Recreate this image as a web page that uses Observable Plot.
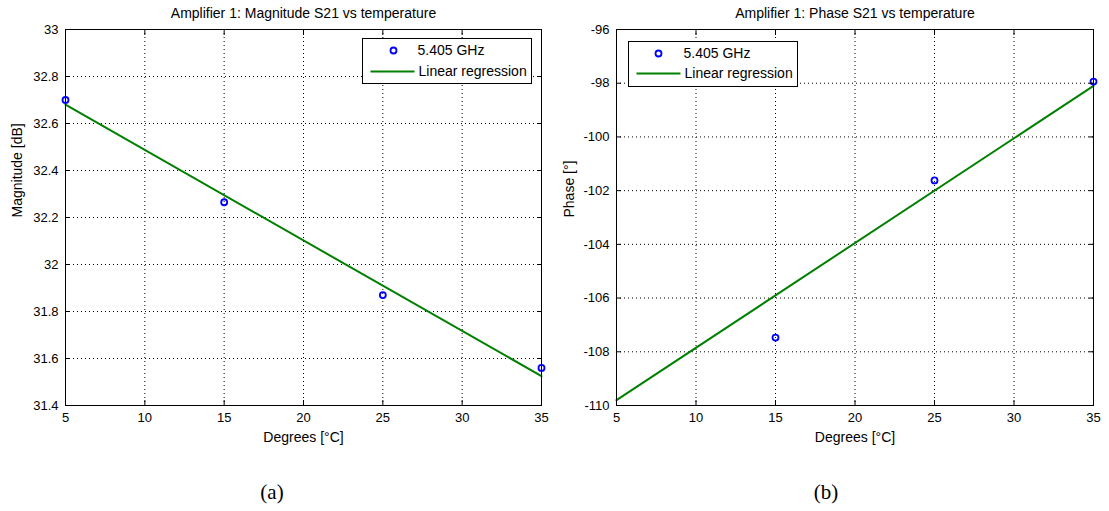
<!DOCTYPE html>
<html>
<head>
<meta charset="utf-8">
<script src="https://cdn.jsdelivr.net/npm/d3@7"></script>
<script src="https://cdn.jsdelivr.net/npm/@observablehq/plot@0.6"></script>
<style>
  html, body { margin: 0; padding: 0; background: #fff; }
  #wrap { position: relative; width: 1109px; height: 511px; background: #fff; overflow: hidden; }
  #wrap > .panel { position: absolute; top: 0; }
  .cap { position: absolute; top: 480px; font-family: "Liberation Serif", "Times New Roman", serif; font-size: 21px; color: #000; transform: translateX(-50%); white-space: nowrap; }
</style>
</head>
<body>
<div id="wrap">
  <div id="left" class="panel" style="left:0px"></div>
  <div id="right" class="panel" style="left:554px"></div>
  <div class="cap" style="left:272px">(a)</div>
  <div class="cap" style="left:826px">(b)</div>
</div>
<script>
// ---- data ----
const xTicks = [5, 10, 15, 20, 25, 30, 35];
const magTicks = [31.4, 31.6, 31.8, 32, 32.2, 32.4, 32.6, 32.8, 33];
const phaseTicks = [-110, -108, -106, -104, -102, -100, -98, -96];

const magTemps = [5, 15, 25, 35];
const magnitude = [32.70, 32.265, 31.87, 31.56];

const phaseTemps = [15, 25, 35];
const phase = [-107.47, -101.62, -97.94];

const regTemps = [5, 35];
const magRegression = [32.68, 31.525];
const phaseRegression = [-109.8, -98.1];

const seriesName = "5.405 GHz";
const regressionName = "Linear regression";
const xLabel = "Degrees [°C]";
const titles = ["Amplifier 1: Magnitude S21 vs temperature", "Amplifier 1: Phase S21 vs temperature"];
const yLabels = ["Magnitude [dB]", "Phase [°]"];

const BLUE = "#0000ff", GREEN = "#008000";

function panel(o) {
  const pts = o.xs.map((t, i) => ({t, v: o.ys[i]}));
  const reg = regTemps.map((t, i) => ({t, v: o.reg[i]}));
  const L = o.legend;
  return Plot.plot({
    width: o.width, height: 511,
    marginLeft: o.marginLeft, marginRight: o.marginRight, marginTop: 29, marginBottom: 106,
    style: {fontFamily: "'Liberation Sans', Arial, sans-serif", fontSize: "13px", background: "#fff", color: "#000", overflow: "visible"},
    x: {domain: [5, 35], axis: null},
    y: {domain: o.yDomain, axis: null},
    marks: [
      Plot.gridX(xTicks, {stroke: "#000", strokeOpacity: 1, strokeWidth: 1, strokeDasharray: "1,3"}),
      Plot.gridY(o.yTicks, {stroke: "#000", strokeOpacity: 1, strokeWidth: 1, strokeDasharray: "1,3"}),
      Plot.line(reg, {x: "t", y: "v", stroke: GREEN, strokeWidth: 2}),
      Plot.dot(pts, {x: "t", y: "v", r: 3, stroke: BLUE, strokeWidth: 1.8, fill: "none"}),
      Plot.frame({stroke: "#000"}),
      Plot.axisX(xTicks, {anchor: "bottom", tickSize: -5, tickPadding: 12, tickFormat: d => String(d), label: null, fontSize: 13}),
      Plot.axisX(xTicks, {anchor: "top", tickSize: -5, tickFormat: () => "", label: null}),
      Plot.axisY(o.yTicks, {anchor: "left", tickSize: -5, tickPadding: 12, tickFormat: d => String(d), label: null, fontSize: 13}),
      Plot.axisY(o.yTicks, {anchor: "right", tickSize: -5, tickFormat: () => "", label: null}),
      Plot.text([o.title], {frameAnchor: "top", lineAnchor: "middle", dy: -16, fontSize: 14}),
      Plot.text([xLabel], {frameAnchor: "bottom", lineAnchor: "middle", dy: 32, fontSize: 14}),
      Plot.text([o.yLabel], {frameAnchor: "left", lineAnchor: "middle", dx: o.yLabelDx, rotate: -90, fontSize: 14}),
      // legend
      Plot.frame({fill: "#fff", stroke: "#000", insetLeft: L.box[0], insetRight: L.box[1], insetTop: L.box[2], insetBottom: L.box[3]}),
      Plot.dot([0], {frameAnchor: "top-left", dx: L.dot[0], dy: L.dot[1], r: 3, stroke: BLUE, strokeWidth: 1.8, fill: "none"}),
      Plot.text([seriesName], {frameAnchor: "top-left", lineAnchor: "middle", dx: L.t1[0], dy: L.t1[1], textAnchor: "start", fontSize: 14}),
      Plot.frame({fill: GREEN, stroke: "none", insetLeft: L.line[0], insetRight: L.line[1], insetTop: L.line[2], insetBottom: L.line[3]}),
      Plot.text([regressionName], {frameAnchor: "top-left", lineAnchor: "middle", dx: L.t2[0], dy: L.t2[1], textAnchor: "start", fontSize: 14})
    ]
  });
}

document.getElementById("left").appendChild(panel({
  width: 554, marginLeft: 65, marginRight: 13,
  yDomain: [31.4, 33], yTicks: magTicks,
  xs: magTemps, ys: magnitude, reg: magRegression,
  title: titles[0], yLabel: yLabels[0], yLabelDx: -48,
  legend: {box: [297, 10, 9, 322], dot: [328, 21], t1: [352, 21], line: [305, 127, 41, 333], t2: [353, 42]}
}));

document.getElementById("right").appendChild(panel({
  width: 555, marginLeft: 62, marginRight: 16,
  yDomain: [-110, -96], yTicks: phaseTicks,
  xs: phaseTemps, ys: phase, reg: phaseRegression,
  title: titles[1], yLabel: yLabels[1], yLabelDx: -47,
  legend: {box: [12, 296, 12, 319], dot: [42, 24], t1: [67, 24], line: [20, 413, 43, 331], t2: [68, 44]}
}));
</script>
</body>
</html>
